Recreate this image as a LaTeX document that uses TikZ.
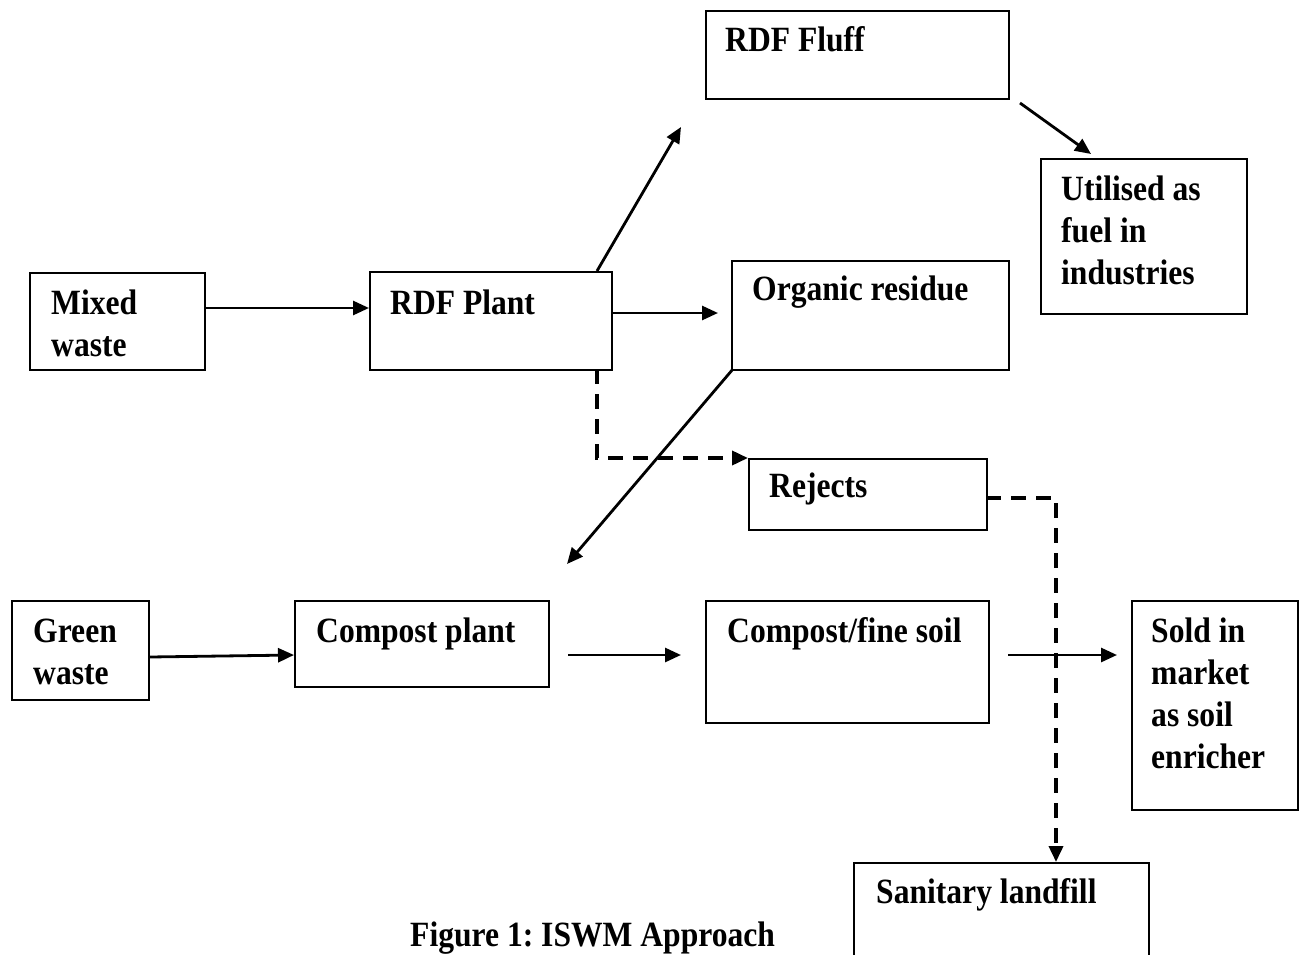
\documentclass[tikz,border=0pt]{standalone}
\usepackage{fontspec}
\setmainfont{Liberation Serif}[FakeStretch=0.89]
\usetikzlibrary{arrows.meta}
\frenchspacing
\tikzset{
  box/.style={draw, line width=2pt, rectangle, inner sep=0pt, anchor=north west},
  lbl/.style={anchor=base west, inner sep=0pt, font=\fontsize{35.5}{42}\selectfont\bfseries},
  arr/.style={line width=2.8pt, -{Triangle[length=16pt, width=14pt]}},
  darr/.style={line width=3.6pt, dash pattern=on 15pt off 10pt, -{Triangle[length=16pt, width=14pt]}},
}
\newcommand{\ml}[1]{\begin{tabular}[t]{@{}l@{}}#1\end{tabular}}
\begin{document}
\begin{tikzpicture}[x=1pt, y=-1pt]
\useasboundingbox (0,0) rectangle (1303,955);
% boxes
\node[box, minimum width=303pt, minimum height=88pt] (fluff) at (705,10) {};
\node[box, minimum width=206pt, minimum height=155pt] (util) at (1040,158) {};
\node[box, minimum width=175pt, minimum height=97pt] (mixed) at (29,272) {};
\node[box, minimum width=242pt, minimum height=98pt] (rdf) at (369,271) {};
\node[box, minimum width=277pt, minimum height=109pt] (org) at (731,260) {};
\node[box, minimum width=238pt, minimum height=71pt] (rej) at (748,458) {};
\node[box, minimum width=137pt, minimum height=99pt] (green) at (11,600) {};
\node[box, minimum width=254pt, minimum height=86pt] (cplant) at (294,600) {};
\node[box, minimum width=283pt, minimum height=122pt] (csoil) at (705,600) {};
\node[box, minimum width=166pt, minimum height=209pt] (sold) at (1131,600) {};
\node[box, minimum width=295pt, minimum height=120pt] (land) at (853,862) {};
% texts
\node[lbl] (tfluff) at (725,52) {RDF Fluff};
\node[lbl] (tutil) at (1061,200) {\ml{Utilised as\\fuel in\\industries}};
\node[lbl] (tmixed) at (51,314) {\ml{Mixed\\waste}};
\node[lbl] (trdf) at (390,314) {RDF Plant};
\node[lbl] (torg) at (752,300) {Organic residue};
\node[lbl] (trej) at (769,497) {Rejects};
\node[lbl] (tgreen) at (33,642) {\ml{Green\\waste}};
\node[lbl] (tcplant) at (316,642) {Compost plant};
\node[lbl] (tcsoil) at (727,642) {Compost/fine soil};
\node[lbl] (tsold) at (1151,642) {\ml{Sold in\\market\\as soil\\enricher}};
\node[lbl] (tland) at (876,903) {Sanitary landfill};
\node[lbl] (cap) at (410,946) {Figure 1: ISWM Approach};
% free ends
\coordinate (rdftop) at (597,271);
\coordinate (fluffin) at (681,127);
\coordinate (fluffout) at (1020,103);
\coordinate (utilin) at (1091,154);
\coordinate (orgin) at (718,313);
\coordinate (orgcorner) at (733,369);
\coordinate (cpin) at (567,564);
\coordinate (cpout) at (568,655);
\coordinate (csin) at (681,655);
\coordinate (csout) at (1008,655);
\coordinate (soldin) at (1117,655);
\coordinate (rdfbot) at (597,369);
\coordinate (rejout) at (986,498);
% connectors
\draw[arr] (mixed.east |- 0,308) -- (rdf.west |- 0,308);
\draw[arr] (rdf.east |- orgin) -- (orgin);
\draw[arr] (rdftop) -- (fluffin);
\draw[arr] (fluffout) -- (utilin);
\draw[arr] (orgcorner) -- (cpin);
\draw[arr] (green.east |- 0,657) -- (cplant.west |- 0,655);
\draw[arr] (cpout) -- (csin);
\draw[arr] (csout) -- (soldin);
\draw[darr] (rdfbot) -- (rdfbot |- rej.north) -- (rej.north west);
\draw[darr] (rejout) -- (1056,498) -- (1056,0 |- land.north);
\end{tikzpicture}
\end{document}
